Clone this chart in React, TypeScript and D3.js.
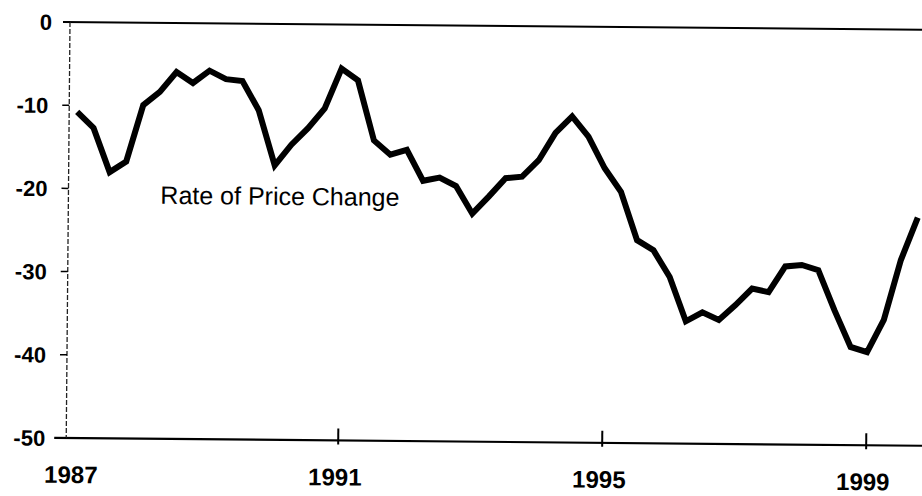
import React from "react";
import * as d3 from "d3";

const W = 922;
const H = 496;

// Quarterly rate of price change (%), 1987Q1 .. 1999Q4
const values = [
  -10.8, -12.7, -18.0, -16.7, -9.9, -8.3, -5.9, -7.2, -5.7, -6.7, -6.9, -10.4,
  -17.0, -14.5, -12.5, -10.1, -5.3, -6.7, -13.9, -15.6, -15.0, -18.7, -18.3, -19.3,
  -22.6, -20.5, -18.3, -18.1, -16.1, -12.8, -10.8, -13.2, -17.0, -19.8, -25.6, -26.8,
  -30.0, -35.3, -34.2, -35.1, -33.3, -31.3, -31.7, -28.6, -28.4, -29.0, -33.8, -38.2,
  -38.8, -34.9, -27.7, -22.6,
];
const startYear = 1987;
const quarters = values.map((_, i) => startYear + i / 4);

const yTicks = [0, -10, -20, -30, -40, -50];
const xLabelYears = [1987, 1991, 1995, 1999];
const xTickYears = [1991, 1995, 1999];
const seriesLabel = "Rate of Price Change";

const FONT = "'Liberation Sans', Arial, Helvetica, sans-serif";

export default function App() {
  const x = d3.scaleLinear().domain([1987, 2000]).range([78, 78 + 13 * 66]);
  const y = d3.scaleLinear().domain([-50, 0]).range([438, 22]);
  const axisX = 70;

  const line = d3
    .line<number>()
    .x((_, i) => x(quarters[i]))
    .y((d) => y(d));

  return (
    <svg
      width={W}
      height={H}
      style={{ position: "absolute", left: 0, top: 0, background: "#ffffff" }}
      fontFamily={FONT}
    >
      <rect x={0} y={0} width={W} height={H} fill="#ffffff" />
      <g transform={`rotate(0.52, ${axisX}, 22)`}>
        {/* top zero line */}
        <line x1={63} x2={W + 20} y1={y(0)} y2={y(0)} stroke="#000" strokeWidth={2} />
        {/* bottom axis line */}
        <line x1={58} x2={W + 20} y1={y(-50)} y2={y(-50)} stroke="#000" strokeWidth={2.2} />
        {/* vertical axis (dashed) */}
        <line
          x1={axisX}
          x2={axisX}
          y1={y(0)}
          y2={y(-50)}
          stroke="#222"
          strokeWidth={1.3}
          strokeDasharray="5 2"
        />
        {yTicks.map((t) => (
          <g key={t}>
            <line x1={axisX - 7} x2={axisX} y1={y(t)} y2={y(t)} stroke="#000" strokeWidth={1.5} />
            <text
              x={t === 0 ? 52 : 49}
              y={y(t) + 8}
              textAnchor="end"
              fontSize={22}
              fontWeight="bold"
              fill="#000"
            >
              {t}
            </text>
          </g>
        ))}
        {xTickYears.map((yr) => (
          <line
            key={yr}
            x1={x(yr)}
            x2={x(yr)}
            y1={y(-50) - 12}
            y2={y(-50) + 4}
            stroke="#000"
            strokeWidth={2}
          />
        ))}
        {xLabelYears.map((yr) => (
          <text
            key={yr}
            x={x(yr) - 3}
            y={483}
            textAnchor="middle"
            fontSize={24}
            fontWeight="bold"
            fill="#000"
          >
            {yr}
          </text>
        ))}
        <text x={162} y={203} fontSize={25} fill="#000">
          {seriesLabel}
        </text>
        <path
          d={line(values) || ""}
          fill="none"
          stroke="#000"
          strokeWidth={6}
          strokeLinejoin="miter"
          strokeLinecap="butt"
        />
      </g>
    </svg>
  );
}
